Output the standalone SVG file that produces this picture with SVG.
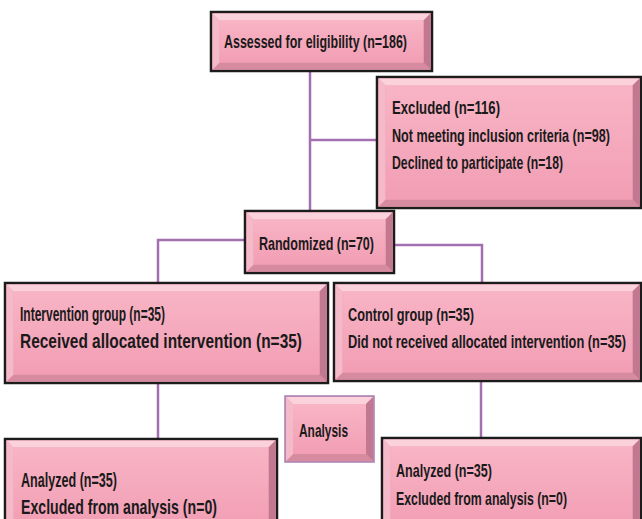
<svg xmlns="http://www.w3.org/2000/svg" width="642" height="519" viewBox="0 0 642 519">
<defs>
<linearGradient id="face" x1="0" y1="0" x2="0" y2="1">
<stop offset="0" stop-color="#F8B4C5"/>
<stop offset="1" stop-color="#F29EB4"/>
</linearGradient>
</defs>
<style>
.frame{fill:#EFA0B5;stroke:#1c1c1c;stroke-width:2.5}
.frame2{fill:#EFA0B5;stroke:#A77DB0;stroke-width:1.5}
.bt{fill:#FBD2DC}
.bl{fill:#F5BACA}
.br{fill:#C27890}
.bb{fill:#D68BA1}
.face{fill:url(#face)}
.conn{fill:none;stroke:#A36FB0;stroke-width:2.5}
text{font-family:"Liberation Sans",Arial,sans-serif;font-size:18px;font-weight:bold;fill:#1a1a1a}
.big{font-size:20px}
</style>
<rect width="642" height="519" fill="#ffffff"/>
<g id="connectors">
<polyline class="conn" points="310,71 310,211"/>
<polyline class="conn" points="310,140 377,140"/>
<polyline class="conn" points="245,240 158,240 158,283"/>
<polyline class="conn" points="394,245 482,245 482,283"/>
<polyline class="conn" points="158,383 158,439"/>
<polyline class="conn" points="481,381 481,438"/>
</g>
<g id="assessed">
<rect class="frame" x="211" y="12" width="221" height="59"/>
<polygon class="bt" points="212.5,13.5 430.5,13.5 423.5,20.5 219.5,20.5"/>
<polygon class="bb" points="212.5,69.5 430.5,69.5 423.5,62.5 219.5,62.5"/>
<polygon class="bl" points="212.5,13.5 219.5,20.5 219.5,62.5 212.5,69.5"/>
<polygon class="br" points="430.5,13.5 423.5,20.5 423.5,62.5 430.5,69.5"/>
<rect class="face" x="219.5" y="20.5" width="204" height="42"/>
<text transform="translate(224,48) scale(0.65,1)" textLength="281.5" lengthAdjust="spacingAndGlyphs">Assessed for eligibility (n=186)</text>
</g>
<g id="excluded">
<rect class="frame" x="377" y="77" width="264" height="131"/>
<polygon class="bt" points="378.5,78.5 639.5,78.5 632.5,85.5 385.5,85.5"/>
<polygon class="bb" points="378.5,206.5 639.5,206.5 632.5,199.5 385.5,199.5"/>
<polygon class="bl" points="378.5,78.5 385.5,85.5 385.5,199.5 378.5,206.5"/>
<polygon class="br" points="639.5,78.5 632.5,85.5 632.5,199.5 639.5,206.5"/>
<rect class="face" x="385.5" y="85.5" width="247" height="114"/>
<text transform="translate(392,114) scale(0.65,1)" textLength="166.2" lengthAdjust="spacingAndGlyphs">Excluded (n=116)</text>
<text transform="translate(392,142) scale(0.65,1)" textLength="335.4" lengthAdjust="spacingAndGlyphs">Not meeting inclusion criteria (n=98)</text>
<text transform="translate(392,169) scale(0.65,1)" textLength="263.1" lengthAdjust="spacingAndGlyphs">Declined to participate (n=18)</text>
</g>
<g id="randomized">
<rect class="frame" x="245" y="211" width="149" height="62"/>
<polygon class="bt" points="246.5,212.5 392.5,212.5 385.5,219.5 253.5,219.5"/>
<polygon class="bb" points="246.5,271.5 392.5,271.5 385.5,264.5 253.5,264.5"/>
<polygon class="bl" points="246.5,212.5 253.5,219.5 253.5,264.5 246.5,271.5"/>
<polygon class="br" points="392.5,212.5 385.5,219.5 385.5,264.5 392.5,271.5"/>
<rect class="face" x="253.5" y="219.5" width="132" height="45"/>
<text transform="translate(259,250) scale(0.65,1)" textLength="176.9" lengthAdjust="spacingAndGlyphs">Randomized (n=70)</text>
</g>
<g id="intervention">
<rect class="frame" x="5" y="283" width="323" height="100"/>
<polygon class="bt" points="6.5,284.5 326.5,284.5 319.5,291.5 13.5,291.5"/>
<polygon class="bb" points="6.5,381.5 326.5,381.5 319.5,374.5 13.5,374.5"/>
<polygon class="bl" points="6.5,284.5 13.5,291.5 13.5,374.5 6.5,381.5"/>
<polygon class="br" points="326.5,284.5 319.5,291.5 319.5,374.5 326.5,381.5"/>
<rect class="face" x="13.5" y="291.5" width="306" height="83"/>
<text class="big" transform="translate(20,321) scale(0.65,1)" textLength="223.1" lengthAdjust="spacingAndGlyphs">Intervention group (n=35)</text>
<text class="big" transform="translate(20,348) scale(0.65,1)" textLength="433.8" lengthAdjust="spacingAndGlyphs">Received allocated intervention (n=35)</text>
</g>
<g id="control">
<rect class="frame" x="334" y="283" width="307" height="98"/>
<polygon class="bt" points="335.5,284.5 639.5,284.5 632.5,291.5 342.5,291.5"/>
<polygon class="bb" points="335.5,379.5 639.5,379.5 632.5,372.5 342.5,372.5"/>
<polygon class="bl" points="335.5,284.5 342.5,291.5 342.5,372.5 335.5,379.5"/>
<polygon class="br" points="639.5,284.5 632.5,291.5 632.5,372.5 639.5,379.5"/>
<rect class="face" x="342.5" y="291.5" width="290" height="81"/>
<text transform="translate(348,321) scale(0.65,1)" textLength="193.8" lengthAdjust="spacingAndGlyphs">Control group (n=35)</text>
<text transform="translate(348,348) scale(0.65,1)" textLength="427.7" lengthAdjust="spacingAndGlyphs">Did not received allocated intervention (n=35)</text>
</g>
<g id="analysis">
<rect class="frame2" x="285" y="396" width="89" height="66"/>
<polygon class="bt" points="286,397 373,397 366,404 293,404"/>
<polygon class="bb" points="286,461 373,461 366,454 293,454"/>
<polygon class="bl" points="286,397 293,404 293,454 286,461"/>
<polygon class="br" points="373,397 366,404 366,454 373,461"/>
<rect class="face" x="293" y="404" width="73" height="50"/>
<text transform="translate(299,437) scale(0.65,1)" textLength="75.4" lengthAdjust="spacingAndGlyphs">Analysis</text>
</g>
<g id="analyzed-left">
<rect class="frame" x="5" y="439" width="272" height="95"/>
<polygon class="bt" points="6.5,440.5 275.5,440.5 268.5,447.5 13.5,447.5"/>
<polygon class="bl" points="6.5,440.5 13.5,447.5 13.5,525.5 6.5,532.5"/>
<polygon class="br" points="275.5,440.5 268.5,447.5 268.5,525.5 275.5,532.5"/>
<rect class="face" x="13.5" y="447.5" width="255" height="78"/>
<text class="big" transform="translate(21,487) scale(0.65,1)" textLength="147.7" lengthAdjust="spacingAndGlyphs">Analyzed (n=35)</text>
<text class="big" transform="translate(21,514) scale(0.65,1)" textLength="301.5" lengthAdjust="spacingAndGlyphs">Excluded from analysis (n=0)</text>
</g>
<g id="analyzed-right">
<rect class="frame" x="382" y="438" width="259" height="96"/>
<polygon class="bt" points="383.5,439.5 639.5,439.5 632.5,446.5 390.5,446.5"/>
<polygon class="bl" points="383.5,439.5 390.5,446.5 390.5,525.5 383.5,532.5"/>
<polygon class="br" points="639.5,439.5 632.5,446.5 632.5,525.5 639.5,532.5"/>
<rect class="face" x="390.5" y="446.5" width="242" height="79"/>
<text transform="translate(396,477) scale(0.65,1)" textLength="147.7" lengthAdjust="spacingAndGlyphs">Analyzed (n=35)</text>
<text transform="translate(396,505) scale(0.65,1)" textLength="263.1" lengthAdjust="spacingAndGlyphs">Excluded from analysis (n=0)</text>
</g>
</svg>
